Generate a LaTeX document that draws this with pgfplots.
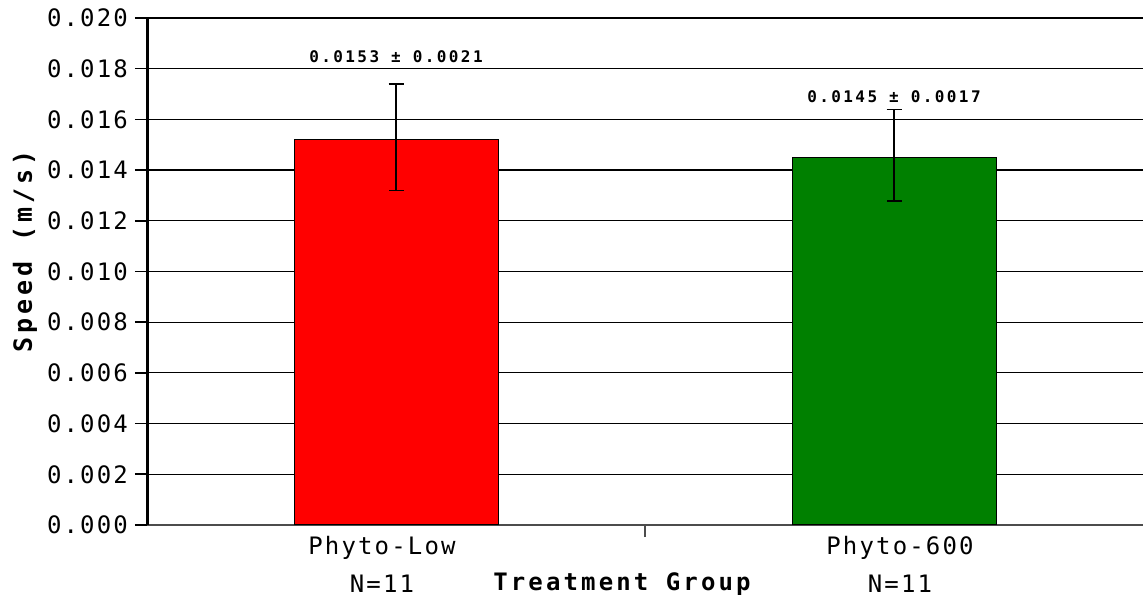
\documentclass[border=0pt]{standalone}
\usepackage{fontspec}
\usepackage{pgfplots}
\pgfplotsset{compat=1.18}
\usetikzlibrary{calc}
\setmainfont{DejaVu Sans Mono}
\newfontfamily\tickfont[LetterSpace=9]{DejaVu Sans Mono}
\newfontfamily\labfont[LetterSpace=9]{DejaVu Sans Mono}
\newfontfamily\titlefont[LetterSpace=13]{DejaVu Sans Mono}
\newfontfamily\ytitlefont[LetterSpace=16]{DejaVu Sans Mono}
\newfontfamily\annfont[LetterSpace=15]{DejaVu Sans Mono}
\definecolor{barred}{HTML}{FF0000}
\definecolor{bargreen}{HTML}{008000}
\begin{document}
\begin{tikzpicture}
  \begin{axis}[
    scale only axis, width=498pt, height=253.5pt,
    xmin=-0.5, xmax=1.5, ymin=0, ymax=0.02,
    axis x line=bottom, axis y line=left,
    x axis line style={-, draw=black!70, line width=0.8pt},
    y axis line style={-, draw=black, line width=1.5pt},
    xtick={0,1},
    xticklabels={{Phyto-Low\\N=11},{Phyto-600\\N=11}},
    major x tick style={draw=none},
    extra x ticks={0.5}, extra x tick labels={},
    extra x tick style={major x tick style={draw=black!70, line width=0.8pt}},
    ytick={0,0.002,...,0.0201},
    scaled y ticks=false,
    yticklabel style={/pgf/number format/.cd, fixed, fixed zerofill, precision=3, assume math mode=true},
    tick align=outside, major tick length=6pt,
    ytick style={draw=black, line width=0.8pt},
    tick label style={font=\fontsize{12}{19}\selectfont\tickfont},
    xticklabel style={font=\fontsize{12}{19}\selectfont\labfont, align=center, xshift={ifthenelse(\ticknum==0,-7,3)}, yshift=4pt},
    ymajorgrids, grid style={draw=black, line width=0.6pt},
    xlabel={\bfseries Treatment Group},
    xlabel style={font=\fontsize{12}{14}\selectfont\titlefont, at={(rel axis cs:0.5,0)}, anchor=base, yshift=-32.5pt, xshift=-11.5pt},
    ylabel={\bfseries Speed (m/s)},
    ylabel style={font=\fontsize{12.5}{14}\selectfont\ytitlefont, at={(rel axis cs:0,0.5)}, anchor=center, yshift=61pt, xshift=10pt},
    ybar, bar width=102pt,
    error bars/error bar style={black, line width=0.6pt},
    error bars/error mark options={rotate=90, mark size=3.75pt, black, line width=0.6pt},
  ]
    \addplot[fill=barred, draw=black, line width=0.5pt, bar shift=0pt,
      error bars/.cd, y dir=both, y explicit]
      coordinates {(0,0.0152) += (0,0.0022) -= (0,0.0020)};
    \addplot[fill=bargreen, draw=black, line width=0.5pt, bar shift=0pt,
      error bars/.cd, y dir=both, y explicit]
      coordinates {(1,0.01448) += (0,0.0019) -= (0,0.0017)};
    \draw[black, line width=1.2pt] (rel axis cs:0,1) -- (rel axis cs:1,1);
    \node[anchor=base, font=\fontsize{8}{10}\selectfont\annfont\bfseries] at (axis cs:0,0.01826) {0.0153 ± 0.0021};
    \node[anchor=base, font=\fontsize{8}{10}\selectfont\annfont\bfseries] at (axis cs:1,0.01665) {0.0145 ± 0.0017};
  \end{axis}
  \pgfresetboundingbox
  \path ($(current axis.south west)+(-73.5pt,-36.5pt)$) rectangle ($(current axis.north east)+(0pt,9pt)$);
\end{tikzpicture}
\end{document}
